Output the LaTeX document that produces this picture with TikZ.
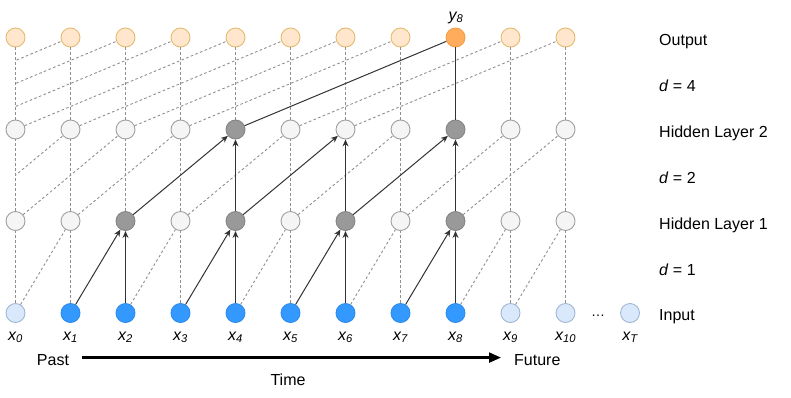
\documentclass[tikz,border=0pt]{standalone}
\usepackage{fontspec}
\setmainfont{Liberation Sans}
\usetikzlibrary{arrows.meta}
\definecolor{inblue}{HTML}{3399FF}
\definecolor{inbluedk}{HTML}{2F8CEB}
\definecolor{inlight}{HTML}{DAE8FC}
\definecolor{inlightd}{HTML}{A0B6D2}
\definecolor{hlight}{HTML}{F5F5F5}
\definecolor{hlightd}{HTML}{A0A0A0}
\definecolor{hdark}{HTML}{999999}
\definecolor{hdarkd}{HTML}{858585}
\definecolor{olight}{HTML}{FFE6CC}
\definecolor{olightd}{HTML}{E2BC72}
\definecolor{oact}{HTML}{FFAD5C}
\definecolor{oactd}{HTML}{F59E45}
\definecolor{dashc}{HTML}{8F8F8F}
\definecolor{solidc}{HTML}{333333}
\begin{document}
\begin{tikzpicture}[x=1pt,y=-1pt,
  neuron/.style={circle,minimum size=19pt,inner sep=0pt,line width=0.9pt},
  inoff/.style={neuron,fill=inlight,draw=inlightd},
  inon/.style={neuron,fill=inblue,draw=inbluedk},
  hoff/.style={neuron,fill=hlight,draw=hlightd},
  hon/.style={neuron,fill=hdark,draw=hdarkd},
  ooff/.style={neuron,fill=olight,draw=olightd},
  oon/.style={neuron,fill=oact,draw=oactd},
  dashe/.style={draw=dashc,line width=0.9pt,dash pattern=on 2.6pt off 2.4pt},
  solide/.style={draw=solidc,line width=1pt},
  arr/.style={solide,-{Stealth[length=7pt,width=6pt]}},
  lbl/.style={font=\fontsize{16}{19}\selectfont,inner sep=0pt},
]
\useasboundingbox (0,0) rectangle (791,397);

% nodes
\foreach \i/\st in {0/inoff,1/inon,2/inon,3/inon,4/inon,5/inon,6/inon,7/inon,8/inon,9/inoff,10/inoff}
  \node[\st] (i\i) at (15.5+55*\i,313) {};
\node[inoff] (iT) at (630,313) {};
\foreach \i/\st in {0/hoff,1/hoff,2/hon,3/hoff,4/hon,5/hoff,6/hon,7/hoff,8/hon,9/hoff,10/hoff}
  \node[\st] (a\i) at (15.5+55*\i,221) {};
\foreach \i/\st in {0/hoff,1/hoff,2/hoff,3/hoff,4/hon,5/hoff,6/hoff,7/hoff,8/hon,9/hoff,10/hoff}
  \node[\st] (b\i) at (15.5+55*\i,129.5) {};
\foreach \i/\st in {0/ooff,1/ooff,2/ooff,3/ooff,4/ooff,5/ooff,6/ooff,7/ooff,8/oon,9/ooff,10/ooff}
  \node[\st] (o\i) at (15.5+55*\i,37.5) {};

% virtual positions left of the picture
\coordinate (am1) at (-39.5,221);
\coordinate (bm1) at (-39.5,129.5);
\coordinate (bm2) at (-94.5,129.5);
\coordinate (bm3) at (-149.5,129.5);

% dashed verticals
\foreach \i in {0,1,3,5,7,9,10} \draw[dashe] (i\i) -- (a\i);
\foreach \i in {0,1,2,3,5,7,9,10} \draw[dashe] (a\i) -- (b\i);
\foreach \i in {0,1,2,3,4,5,6,7,9,10} \draw[dashe] (b\i) -- (o\i);

% dashed diagonals
\foreach \s/\t in {0/1,2/3,4/5,6/7,8/9,9/10} \draw[dashe] (i\s) -- (a\t);
\foreach \s/\t in {0/2,1/3,3/5,5/7,7/9,8/10} \draw[dashe] (a\s) -- (b\t);
\foreach \s/\t in {0/4,1/5,2/6,3/7,5/9,6/10} \draw[dashe] (b\s) -- (o\t);
\begin{scope}
  \clip (15.5,0) rectangle (791,397);
  \draw[dashe] (am1) -- (b1);
  \draw[dashe] (bm1) -- (o3);
  \draw[dashe] (bm2) -- (o2);
  \draw[dashe] (bm3) -- (o1);
\end{scope}

% solid connections
\foreach \s/\t in {1/2,2/2,3/4,4/4,5/6,6/6,7/8,8/8} \draw[arr] (i\s) -- (a\t);
\foreach \s/\t in {2/4,4/4,4/6,6/6,6/8,8/8} \draw[arr] (a\s) -- (b\t);
\draw[solide] (b4) -- (o8);
\draw[solide] (b8) -- (o8);

% labels
\foreach \i in {0,...,10}
  \node[lbl,anchor=base] (lx\i) at (15.5+55*\i,340) {\itshape x\textsubscript{\i}};
\node[lbl,anchor=base] (lxT) at (630,340) {\itshape x\textsubscript{T}};
\node[lbl,anchor=base] (ly8) at (456,20) {\itshape y\textsubscript{8}};
\node[lbl,anchor=base,font=\fontsize{14}{16}\selectfont] (dots) at (598,316.5) {…};

% right-hand labels
\node[lbl,anchor=base west] (tout) at (659,45.5) {Output};
\node[lbl,anchor=base west] (td4) at (659,91.5) {\textit{d} = 4};
\node[lbl,anchor=base west] (th2) at (659,137.5) {Hidden Layer 2};
\node[lbl,anchor=base west] (td2) at (659,183.5) {\textit{d} = 2};
\node[lbl,anchor=base west] (th1) at (659,229.5) {Hidden Layer 1};
\node[lbl,anchor=base west] (td1) at (659,275) {\textit{d} = 1};
\node[lbl,anchor=base west] (tin) at (659,320.5) {Input};

% time axis
\node[lbl,anchor=base] (past) at (53,365.5) {Past};
\node[lbl,anchor=base west] (future) at (514,365.5) {Future};
\node[lbl,anchor=base] (time) at (288,385) {Time};
\draw[line width=2.2pt,-{Triangle[length=12pt,width=10pt]},shorten <=13pt,shorten >=13pt]
  ([yshift=2.5pt]past.east) -- ([yshift=2.5pt]future.west);
\end{tikzpicture}
\end{document}
